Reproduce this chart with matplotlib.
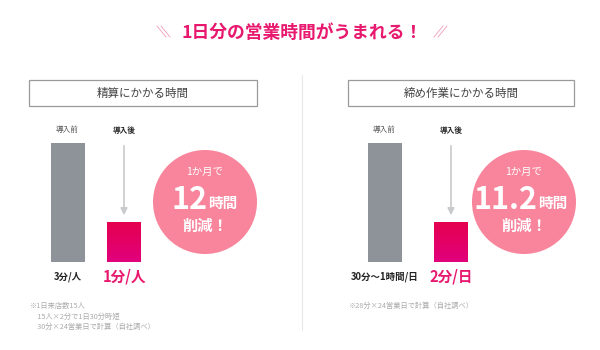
import numpy as np
import matplotlib.pyplot as plt
from matplotlib.patches import Circle, Rectangle, FancyArrowPatch
from matplotlib.colors import LinearSegmentedColormap

plt.rcParams['font.family'] = ['Noto Sans CJK JP', 'DejaVu Sans']

# data
title = "1日分の営業時間がうまれる！"
panel_titles = ["精算にかかる時間", "締め作業にかかる時間"]
categories = ["導入前", "導入後"]
before_vals = [3, 3]     # relative bar heights (before)
after_vals = [1, 1]      # relative bar heights (after)
before_labels = ["3分/人", "30分〜1時間/日"]
after_labels = ["1分/人", "2分/日"]
saved_num = ["12", "11.2"]
footnotes = [
    "※1日来店数15人\n　15人×2分で1日30分時短\n　30分×24営業日で計算（自社調べ）",
    "※28分×24営業日で計算（自社調べ）",
]

PINK = "#e8186e"
GRAY_BAR = "#8e9299"
CIRCLE = "#f8859c"

W, H = 600, 350
fig = plt.figure(figsize=(6, 3.5), dpi=100)
fig.patch.set_facecolor("white")

# overlay axes in pixel coordinates
ov = fig.add_axes([0, 0, 1, 1])
ov.set_xlim(0, W)
ov.set_ylim(H, 0)
ov.axis("off")

# title
ov.text(302, 33, title, color=PINK, fontsize=12.8, fontweight="bold",
        ha="center", va="center")
for x0 in (157, 161):
    ov.plot([x0, x0 + 9], [26, 37], color="#f29bbb", lw=0.6)
for x0 in (434, 438):
    ov.plot([x0 + 9, x0], [26, 37], color="#f29bbb", lw=0.6)

# divider
ov.plot([302, 302], [75, 330], color="#e8e8e8", lw=0.8)

# panel geometry (pixels)
box_x = [(29, 257), (348, 574)]
bar_centers = [(67.5, 124), (384.5, 451)]
bar_w_px = 34
circ_c = [(205, 202), (524, 202)]
bar_top, bar_bot = 143, 262

cm = LinearSegmentedColormap.from_list("pk", ["#e1007d", "#e5004f"])

for i in range(2):
    bx0, bx1 = box_x[i]
    ov.add_patch(Rectangle((bx0, 80), bx1 - bx0, 26, fill=False,
                           ec="#9a9a9a", lw=0.9))
    ov.text((bx0 + bx1) / 2, 93.5, panel_titles[i], color="#444444",
            fontsize=8.3, ha="center", va="center")

    c0, c1 = bar_centers[i]
    step = c1 - c0
    ax_left = c0 - step * 0.75
    ax_w = step * 2.5
    ax = fig.add_axes([ax_left / W, (H - bar_bot) / H, ax_w / W,
                       (bar_bot - bar_top) / H])
    ax.set_xlim(-0.75, 1.75)
    ax.set_ylim(0, max(before_vals[i], after_vals[i]))
    ax.axis("off")
    bw = bar_w_px / step
    ax.bar([0], [before_vals[i]], width=bw, color=GRAY_BAR)
    pb = ax.bar([1], [after_vals[i]], width=bw, color="none")[0]
    # vertical gradient on the "after" bar
    grad = np.linspace(0, 1, 64).reshape(-1, 1)
    im = ax.imshow(grad, extent=(1 - bw / 2, 1 + bw / 2, 0, after_vals[i]),
                   origin="lower", cmap=cm, aspect="auto", zorder=2)
    im.set_clip_path(pb)

    # category labels
    ov.text(c0, 130, categories[0], color="#555555", fontsize=5.5,
            ha="center", va="center")
    ov.text(c1, 130, categories[1], color="#222222", fontsize=5.5,
            fontweight="bold", ha="center", va="center")

    # arrow
    ov.add_patch(FancyArrowPatch((c1, 143), (c1, 218), arrowstyle="-|>",
                                 mutation_scale=10, color="#c9cacc", lw=1.2))

    # value labels
    ov.text(c0, 277, before_labels[i], color="#222222", fontsize=6.8,
            fontweight="bold", ha="center", va="center")
    ov.text(c1, 276, after_labels[i], color=PINK, fontsize=10.5,
            fontweight="bold", ha="center", va="center")

    # circle
    cx, cy = circ_c[i]
    ov.add_patch(Circle((cx, cy), 52, color=CIRCLE, lw=0))
    ov.text(cx, 172, "1か月で", color="white", fontsize=7.5,
            ha="center", va="center")
    split = cx + (2 if i == 0 else 13)
    ov.text(split, 200, saved_num[i], color="white",
            fontsize=22, fontweight="bold", ha="right", va="center")
    ov.text(split + 1, 203, "時間", color="white", fontsize=10.5,
            fontweight="bold", ha="left", va="center")
    ov.text(cx, 226, "削減！", color="white", fontsize=11,
            fontweight="bold", ha="center", va="center")

    # footnote
    ov.text(bx0 + 1, 302, footnotes[i], color="#aaaaaa",
            fontsize=5.2, ha="left", va="top", linespacing=1.45)

fig.savefig("out.png", dpi=100, facecolor="white")
